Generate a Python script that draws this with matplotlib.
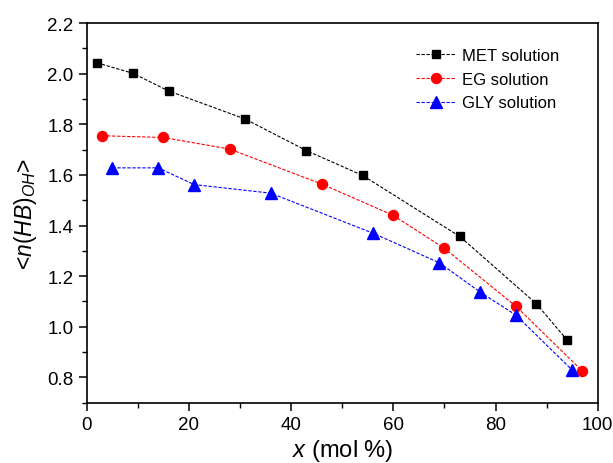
import matplotlib
matplotlib.use("Agg")
import matplotlib.pyplot as plt
from matplotlib.ticker import MultipleLocator

plt.rcParams['font.family'] = ['Liberation Sans', 'DejaVu Sans']
plt.rcParams['mathtext.fontset'] = 'custom'
plt.rcParams['mathtext.rm'] = 'Liberation Sans'
plt.rcParams['mathtext.it'] = 'Liberation Sans:italic'

met_x = [2, 9, 16, 31, 43, 54, 73, 88, 94]
met_y = [2.043, 2.002, 1.932, 1.821, 1.696, 1.598, 1.357, 1.091, 0.948]
eg_x = [3, 15, 28, 46, 60, 70, 84, 97]
eg_y = [1.755, 1.748, 1.702, 1.564, 1.440, 1.310, 1.081, 0.825]
gly_x = [5, 14, 21, 36, 56, 69, 77, 84, 95]
gly_y = [1.628, 1.628, 1.562, 1.528, 1.370, 1.253, 1.137, 1.046, 0.829]

labels = ["MET solution", "EG solution", "GLY solution"]

fig = plt.figure(figsize=(6.13, 4.64), dpi=100)
ax = fig.add_axes([0.1416, 0.130, 0.8334, 0.818])

ds = (0, (3, 1.5))
ax.plot(met_x, met_y, linestyle=ds, color='black', lw=0.8, marker='s', ms=6.2, label=labels[0])
ax.plot(eg_x, eg_y, linestyle=ds, color='red', lw=0.8, marker='o', ms=7.2, label=labels[1])
ax.plot(gly_x, gly_y, linestyle=ds, color='blue', lw=0.8, marker='^', ms=8, label=labels[2])

ax.set_xlim(0, 100)
ax.set_ylim(0.7, 2.2)
ax.xaxis.set_major_locator(MultipleLocator(20))
ax.xaxis.set_minor_locator(MultipleLocator(10))
ax.yaxis.set_minor_locator(MultipleLocator(0.1))
ax.set_yticks([0.8, 1.0, 1.2, 1.4, 1.6, 1.8, 2.0, 2.2])
ax.yaxis.set_major_formatter(matplotlib.ticker.FormatStrFormatter('%.1f'))
ax.tick_params(which='major', direction='out', length=6, width=1.1, labelsize=13.5)
ax.tick_params(which='minor', direction='out', length=3.5, width=1.0)
for s in ax.spines.values():
    s.set_linewidth(1.2)

ax.set_xlabel(r'$x$ (mol %)', fontsize=17, labelpad=3)
ax.set_ylabel(r'<$n$($HB$)$_{OH}$>', fontsize=16.5, labelpad=6)

leg = ax.legend(loc='upper left', bbox_to_anchor=(416 / 613, 1 - 49 / 464),
                bbox_transform=fig.transFigure, frameon=False, fontsize=12,
                borderpad=0, borderaxespad=0,
                handlelength=2.4, handletextpad=0.37, labelspacing=0.52)

fig.savefig('out.png', dpi=100)
